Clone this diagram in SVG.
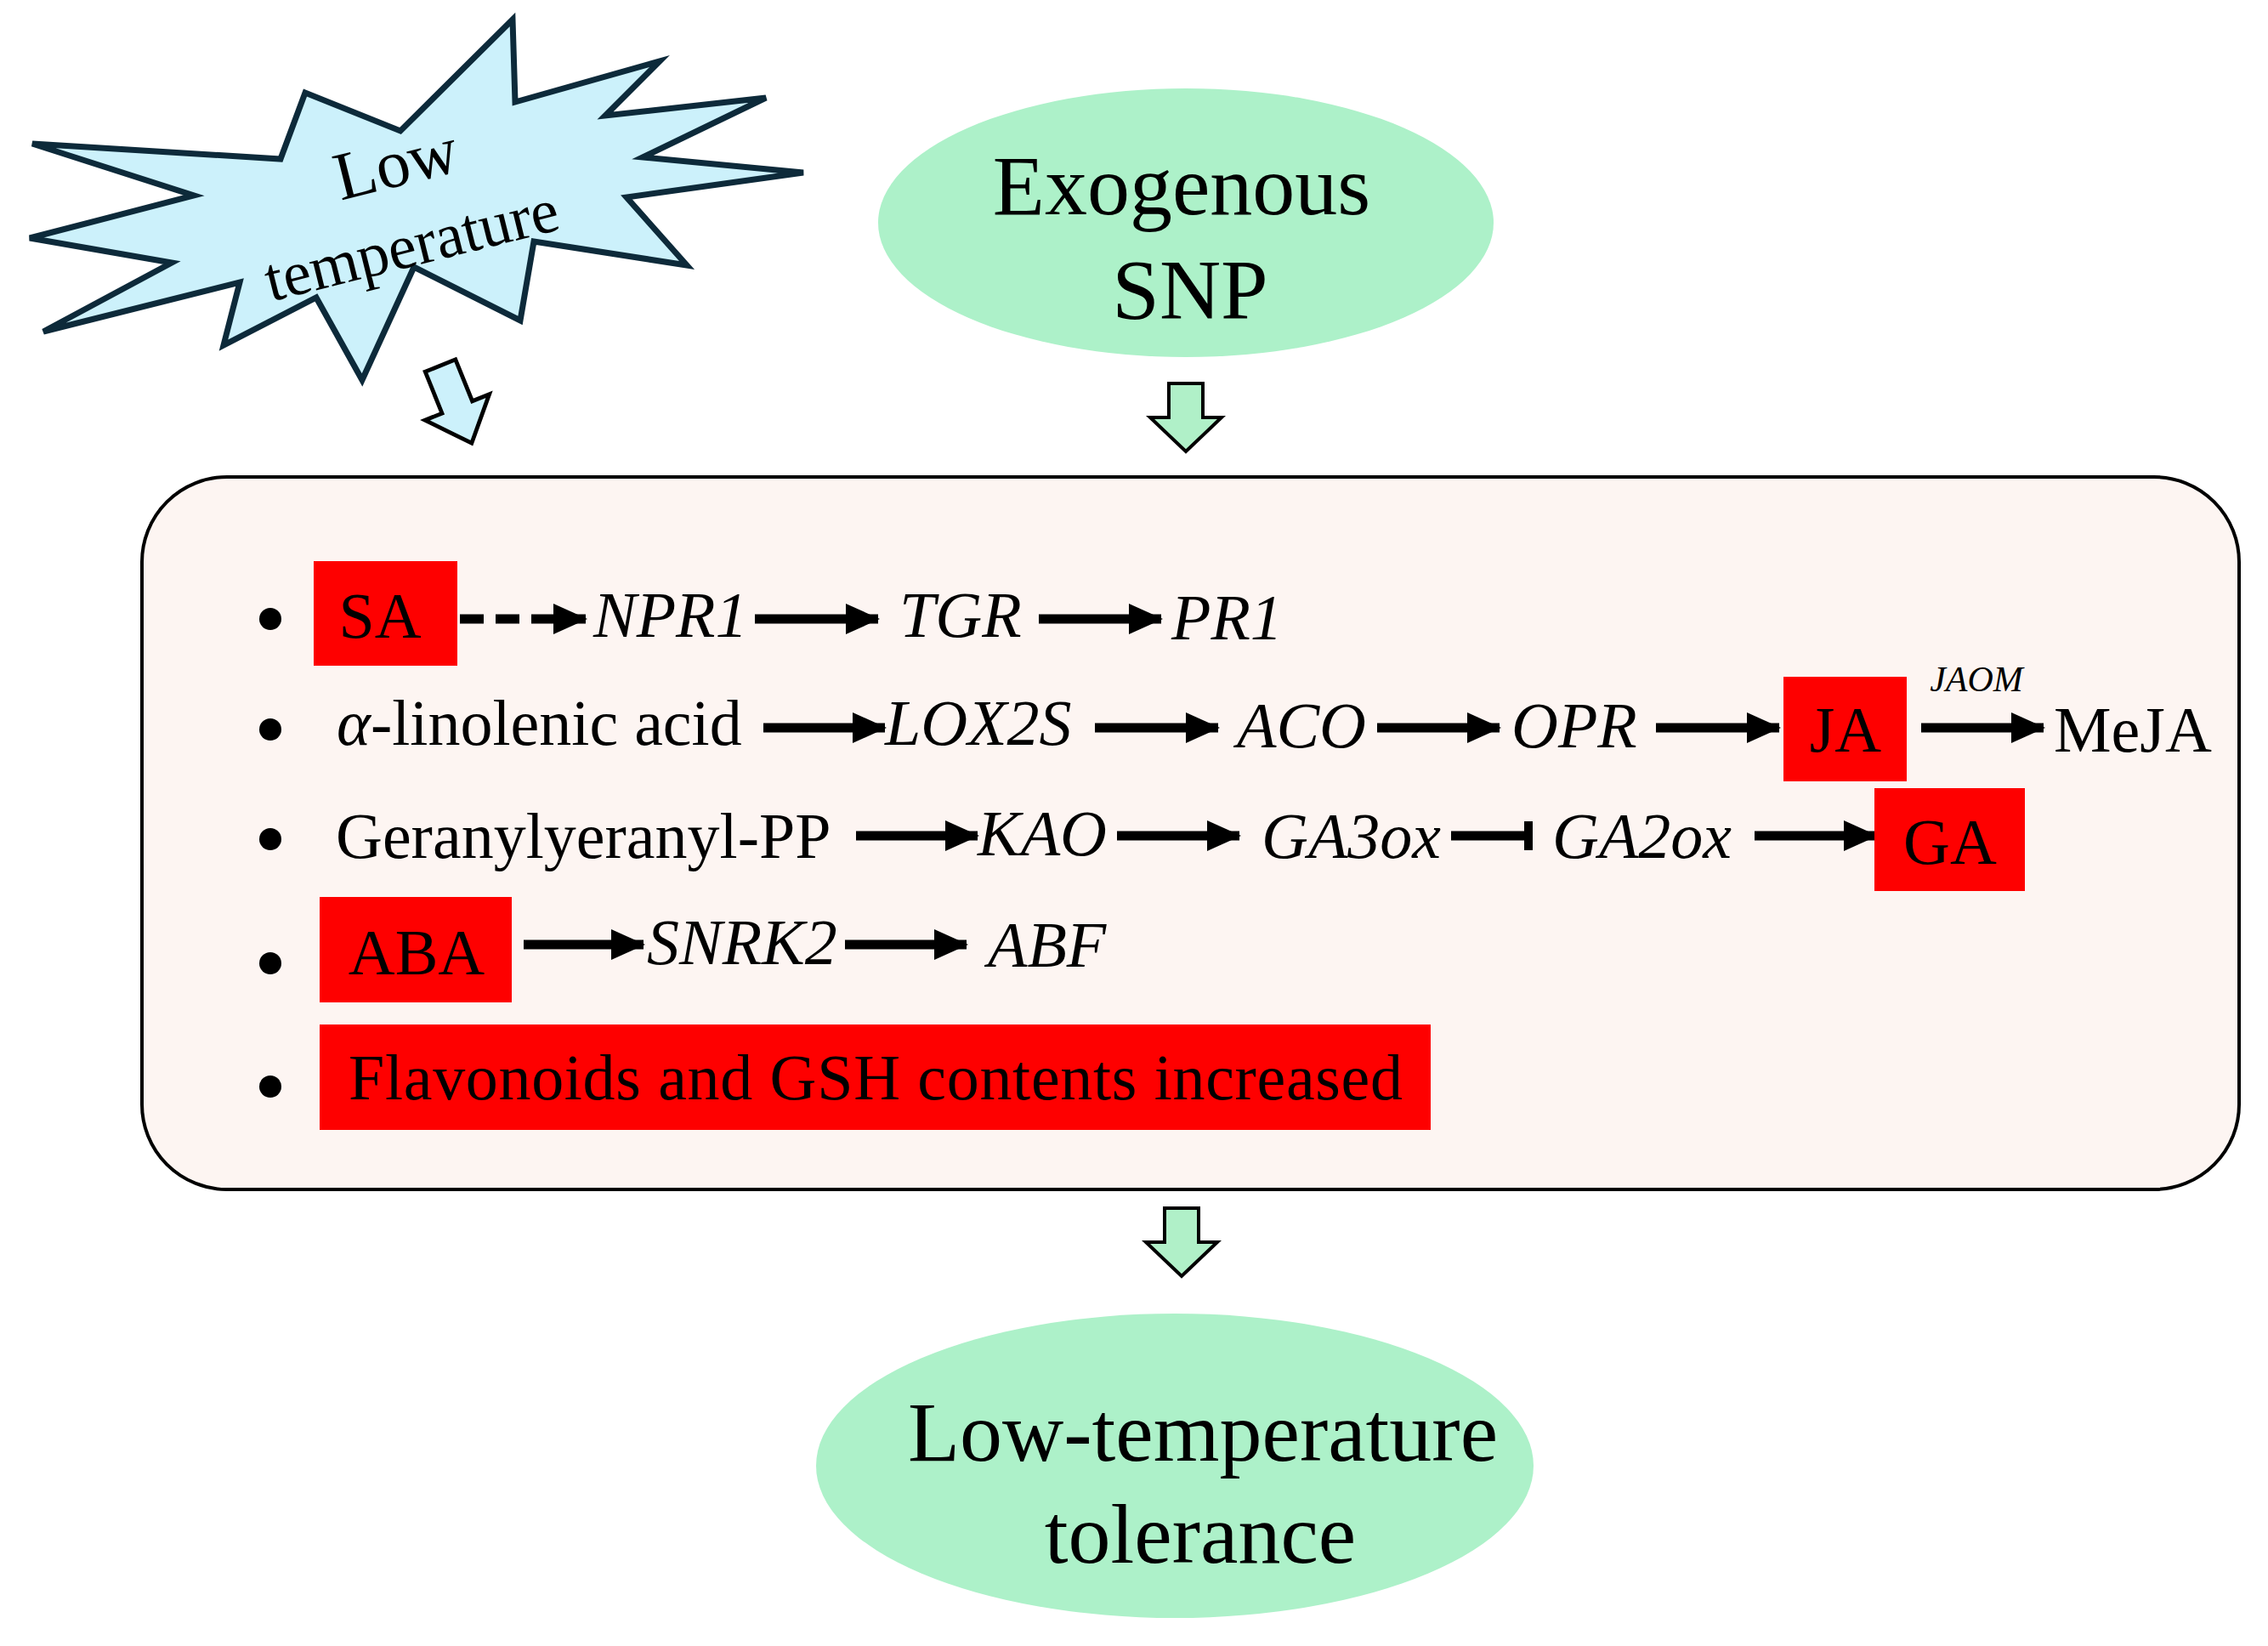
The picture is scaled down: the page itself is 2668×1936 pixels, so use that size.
<svg xmlns="http://www.w3.org/2000/svg" width="2668" height="1936" viewBox="0 0 2668 1936">
<defs>
<style>
text{font-family:"Liberation Serif","Times New Roman",serif;fill:#000}
.t{font-size:76px}
.i{font-size:76px;font-style:italic}
.big{font-size:100px}
.red{fill:#fe0000}
.ar{stroke:#000;stroke-width:11;fill:none;marker-end:url(#ah)}
.blk{fill:#b0f0c8;stroke:#000;stroke-width:4}
</style>
<marker id="ah" markerUnits="userSpaceOnUse" markerWidth="44" markerHeight="40" refX="38" refY="20" orient="auto"><path d="M0,2 L40,20 L0,38 Z" fill="#000"/></marker>
</defs>
<rect width="2668" height="1936" fill="#fff"/>
<g id="main-box">
<rect x="167" y="561" width="2467" height="838" rx="100" fill="#fdf5f2" stroke="#000" stroke-width="4"/>
</g>
<g id="low-temp">
<polygon points="38,169 330,187 359,109 471,154 603,23 606,120 776,72 712,136 901,115 756,185 945,203 737,232 808,312 628,284 612,377 487,314 426,447 372,350 263,406 282,332 51,390 202,309 35,280 228,230" fill="#ccf1fb" stroke="#0d2a3a" stroke-width="7" stroke-linejoin="miter"/>
<text transform="translate(472,218) rotate(-14)" text-anchor="middle" style="font-size:80px">Low</text>
<text transform="translate(490,312) rotate(-14)" text-anchor="middle" style="font-size:74px">temperature</text>
</g>
<g id="snp">
<ellipse cx="1395" cy="262" rx="362" ry="158" fill="#adf1c9"/>
<text x="1390" y="252" text-anchor="middle" class="big">Exogenous</text>
<text x="1400" y="374" text-anchor="middle" class="big">SNP</text>
</g>
<g id="tolerance">
<ellipse cx="1382" cy="1724" rx="422" ry="179" fill="#adf1c9"/>
<text x="1415" y="1718" text-anchor="middle" class="big">Low-temperature</text>
<text x="1412" y="1838" text-anchor="middle" class="big">tolerance</text>
</g>
<g id="connectors">
<path transform="translate(518,430) rotate(-22) scale(1.2)" fill="#ccf1fb" stroke="#000" stroke-width="4" d="M-16,0 L16,0 L16,44 L34,44 L0,82 L-34,44 L-16,44 Z"/>
<path transform="translate(1395,451)" class="blk" d="M-20,0 L20,0 L20,40 L42,40 L0,80 L-42,40 L-20,40 Z"/>
<path transform="translate(1390,1421)" class="blk" d="M-20,0 L20,0 L20,40 L42,40 L0,80 L-42,40 L-20,40 Z"/>
<line x1="541" y1="728" x2="689" y2="728" class="ar" stroke-dasharray="28,14"/>
<line x1="888" y1="728" x2="1033" y2="728" class="ar"/>
<line x1="1222" y1="728" x2="1366" y2="728" class="ar"/>
<line x1="898" y1="856" x2="1041" y2="856" class="ar"/>
<line x1="1288" y1="856" x2="1433" y2="856" class="ar"/>
<line x1="1620" y1="856" x2="1764" y2="856" class="ar"/>
<line x1="1948" y1="856" x2="2093" y2="856" class="ar"/>
<line x1="2260" y1="856" x2="2404" y2="856" class="ar"/>
<line x1="1007" y1="983" x2="1150" y2="983" class="ar"/>
<line x1="1314" y1="983" x2="1458" y2="983" class="ar"/>
<line x1="1707" y1="983" x2="1796" y2="983" stroke="#000" stroke-width="11"/>
<line x1="1798" y1="966" x2="1798" y2="1000" stroke="#000" stroke-width="10"/>
<line x1="2064" y1="983" x2="2207" y2="983" class="ar"/>
<line x1="616" y1="1111" x2="757" y2="1111" class="ar"/>
<line x1="994" y1="1111" x2="1137" y2="1111" class="ar"/>
</g>
<g id="bullets">
<circle cx="318" cy="728" r="13"/><circle cx="318" cy="858" r="13"/><circle cx="318" cy="987" r="13"/><circle cx="318" cy="1133" r="13"/><circle cx="318" cy="1278" r="13"/>
</g>
<g id="row1">
<rect x="369" y="660" width="169" height="123" class="red"/>
<text x="447" y="750" text-anchor="middle" class="t">SA</text>
<text x="698" y="749" class="i">NPR1</text>
<text x="1058" y="749" class="i">TGR</text>
<text x="1378" y="752" class="i">PR1</text>
</g>
<g id="row2">
<text x="396" y="876" class="t"><tspan font-style="italic">α</tspan>-linolenic acid</text>
<text x="1041" y="876" class="i">LOX2S</text>
<text x="1455" y="879" class="i">ACO</text>
<text x="1778" y="879" class="i">OPR</text>
<rect x="2098" y="796" width="145" height="123" class="red"/>
<text x="2171" y="884" text-anchor="middle" class="t">JA</text>
<text x="2325" y="813" text-anchor="middle" style="font-size:42px;font-style:italic">JAOM</text>
<text x="2416" y="884" class="t">MeJA</text>
</g>
<g id="row3">
<text x="395" y="1009" class="t">Geranylyeranyl-PP</text>
<text x="1150" y="1006" class="i">KAO</text>
<text x="1484" y="1009" class="i">GA3ox</text>
<text x="1826" y="1009" class="i">GA2ox</text>
<rect x="2205" y="927" width="177" height="121" class="red"/>
<text x="2294" y="1016" text-anchor="middle" class="t">GA</text>
</g>
<g id="row4">
<rect x="376" y="1055" width="226" height="124" class="red"/>
<text x="490" y="1146" text-anchor="middle" class="t">ABA</text>
<text x="761" y="1134" class="i">SNRK2</text>
<text x="1162" y="1137" class="i">ABF</text>
</g>
<g id="row5">
<rect x="376" y="1205" width="1307" height="124" class="red"/>
<text x="410" y="1293" class="t" textLength="1240">Flavonoids and GSH contents increased</text>
</g>
</svg>
